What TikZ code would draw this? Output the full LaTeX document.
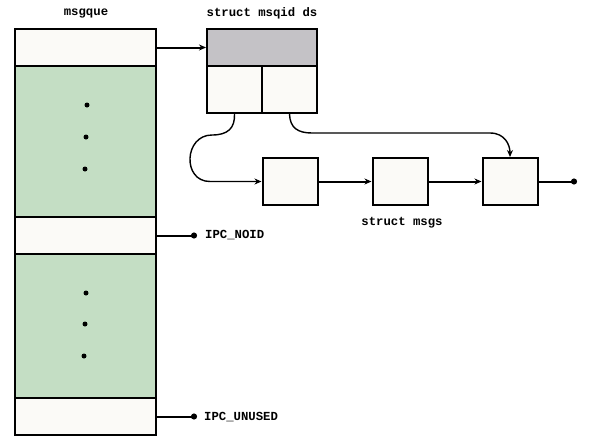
\documentclass[tikz,border=0pt]{standalone}
\usepackage{fontspec}
\newfontfamily\labfont{Liberation Mono}
\usetikzlibrary{arrows.meta}
\definecolor{cellwhite}{HTML}{FBFAF7}
\definecolor{cellgreen}{HTML}{C4DEC4}
\definecolor{cellgray}{HTML}{C4C2C6}
\tikzset{
  cell/.style={draw=black, line width=2pt, inner sep=0pt, minimum width=#1},
  lbl/.style={font=\labfont\bfseries\fontsize{12.3}{14}\selectfont, inner sep=0pt},
  conn/.style={line width=2pt, -{Stealth[length=7pt,width=6pt]}},
  curv/.style={line width=1.4pt, -{Stealth[length=7pt,width=6pt]}},
  dotline/.style={line width=2pt, -{Circle[length=6pt]}},
  vdot/.style={circle, fill=black, inner sep=0pt, minimum size=5pt},
}
\begin{document}
\begin{tikzpicture}[x=1pt,y=-1pt]
\useasboundingbox (0,0) rectangle (597,445);
% left column
\node[cell=141pt, minimum height=37pt, fill=cellwhite] (q0) at (85.5,47.5) {};
\node[cell=141pt, minimum height=151pt, fill=cellgreen] (g1) at (85.5,141.5) {};
\node[cell=141pt, minimum height=37pt, fill=cellwhite] (q1) at (85.5,235.5) {};
\node[cell=141pt, minimum height=144pt, fill=cellgreen] (g2) at (85.5,326) {};
\node[cell=141pt, minimum height=37pt, fill=cellwhite] (q2) at (85.5,416.5) {};
\node[lbl] (tq) at (86,13) {msgque};
% dots
\node[vdot] (d1) at (87,105) {};
\node[vdot] (d2) at (86,137) {};
\node[vdot] (d3) at (85,169) {};
\node[vdot] (d4) at (86,293) {};
\node[vdot] (d5) at (85,324) {};
\node[vdot] (d6) at (84,356) {};
% msqid_ds
\node[cell=110pt, minimum height=37pt, fill=cellgray] (hd) at (262,47.5) {};
\node[cell=55pt, minimum height=47pt, fill=cellwhite] (cl) at (234.5,89.5) {};
\node[cell=55pt, minimum height=47pt, fill=cellwhite] (cr) at (289.5,89.5) {};
\node[lbl] (tm) at (262,13) {struct msqid ds};
% msgs
\node[cell=55pt, minimum height=47pt, fill=cellwhite] (m1) at (290,181.5) {};
\node[cell=55pt, minimum height=47pt, fill=cellwhite] (m2) at (400,181.5) {};
\node[cell=55pt, minimum height=47pt, fill=cellwhite] (m3) at (510,181.5) {};
\node[lbl] (ts) at (402,223) {struct msgs};
\coordinate (e3) at (577,181.5);
% labels right
\coordinate (e1) at (197,235.5);
\coordinate (e2) at (197,416.5);
\node[lbl, anchor=west] (tn) at (205,235.5) {IPC\_NOID};
\node[lbl, anchor=west] (tu) at (204,417) {IPC\_UNUSED};
% connectors
\draw[conn] (q0.east) -- (hd.west);
\draw[conn] (m1.east) -- (m2.west);
\draw[conn] (m2.east) -- (m3.west);
\draw[dotline] (m3.east) -- (e3);
\draw[dotline] (q1.east) -- (e1);
\draw[dotline] (q2.east) -- (e2);
\draw[curv] (cl.south) .. controls (235,128) and (228,135) .. (212,135)
  .. controls (184,135) and (182,181.5) .. (210,181.5) -- (m1.west);
\draw[curv] (cr.south) .. controls (290,128) and (298,133) .. (312,133)
  -- (490,133) .. controls (505,133) and (510,145) .. (m3.north);
\end{tikzpicture}
\end{document}
